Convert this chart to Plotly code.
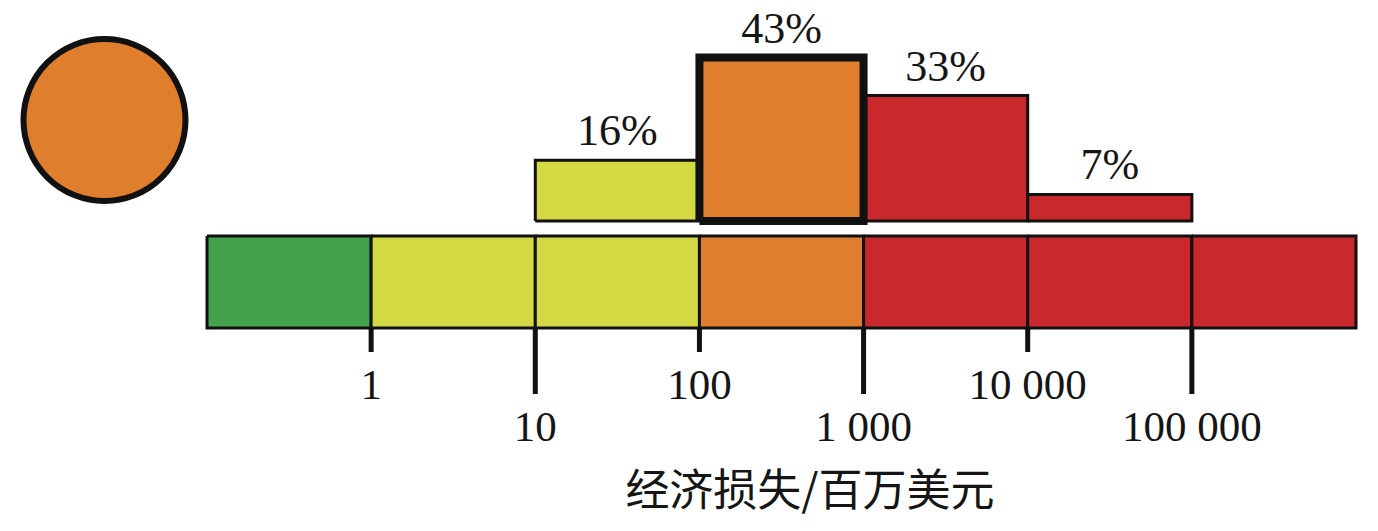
import plotly.graph_objects as go

# ---- data ----
band_edges = [0.1, 1, 10, 100, 1000, 10000, 100000, 1000000]
band_colors = ["#43a24c", "#d3d942", "#d3d942", "#df7e2c", "#c9282c", "#c9282c", "#c9282c"]

hist_lo = [10, 100, 1000, 10000]
hist_hi = [100, 1000, 10000, 100000]
hist_pct = [16, 43, 33, 7]
hist_labels = ["16%", "43%", "33%", "7%"]
hist_colors = ["#d3d942", "#df7e2c", "#c9282c", "#c9282c"]
hist_highlight = [False, True, False, False]

tick_vals = [1, 10, 100, 1000, 10000, 100000]
tick_text = ["1", "10", "100", "1 000", "10 000", "100 000"]
tick_row = [0, 1, 0, 1, 0, 1]

x_title = "经济损失/百万美元"
alert_color = "#df7e2c"

# ---- layout constants (pixels) ----
W, H = 1378, 531
PX_PER_PCT = 3.8
BASE_PX = 221
BAR_TOP, BAR_BOT = 236, 328
TICK_END = [352, 394]
LABEL_Y = [388, 430]
TEXT_COLOR = "#151515"
LINE = "#111111"
SERIF = "Liberation Serif, Times New Roman, serif"

# x axis: log, decade 0.1 at px 207, 1e6 at px 1356
px_dec = (1356 - 207) / 7.0
xr = [-1 - 207 / px_dec, 6 + (W - 1356) / px_dec]
yr1 = [-(H - BASE_PX) / PX_PER_PCT, BASE_PX / PX_PER_PCT]

fig = go.Figure()

# colour bar
for i, c in enumerate(band_colors):
    a, b = band_edges[i], band_edges[i + 1]
    fig.add_trace(go.Scatter(
        x=[a, b, b, a, a], y=[BAR_TOP, BAR_TOP, BAR_BOT, BAR_BOT, BAR_TOP],
        yaxis="y2", mode="lines", fill="toself", fillcolor=c,
        line=dict(color=LINE, width=3), hoverinfo="skip", showlegend=False))

# ticks
for v, r in zip(tick_vals, tick_row):
    fig.add_trace(go.Scatter(
        x=[v, v], y=[BAR_BOT, TICK_END[r]], yaxis="y2", mode="lines",
        line=dict(color=LINE, width=5), hoverinfo="skip", showlegend=False))

# tick labels
fig.add_trace(go.Scatter(
    x=tick_vals, y=[LABEL_Y[r] for r in tick_row], yaxis="y2", mode="text",
    text=tick_text, textposition="middle center",
    textfont=dict(family=SERIF, size=43, color=TEXT_COLOR),
    hoverinfo="skip", showlegend=False))

# histogram
for lo, hi, v, c, hl in zip(hist_lo, hist_hi, hist_pct, hist_colors, hist_highlight):
    if hl:
        continue
    fig.add_trace(go.Scatter(
        x=[lo, hi, hi, lo, lo], y=[0, 0, v, v, 0], mode="lines", fill="toself",
        fillcolor=c, line=dict(color=LINE, width=3), hoverinfo="skip", showlegend=False))
for lo, hi, v, c, hl in zip(hist_lo, hist_hi, hist_pct, hist_colors, hist_highlight):
    if not hl:
        continue
    fig.add_trace(go.Scatter(
        x=[lo, hi, hi, lo, lo], y=[0, 0, v, v, 0], mode="lines", fill="toself",
        fillcolor=c, line=dict(color=LINE, width=8), hoverinfo="skip", showlegend=False))

LABEL_GAP = 26 / PX_PER_PCT
fig.add_trace(go.Scatter(
    x=[(lo * hi) ** 0.5 for lo, hi in zip(hist_lo, hist_hi)],
    y=[v + LABEL_GAP for v in hist_pct], mode="text", text=hist_labels,
    textposition="middle center",
    textfont=dict(family=SERIF, size=44, color=TEXT_COLOR),
    hoverinfo="skip", showlegend=False))

# axis title
fig.add_trace(go.Scatter(
    x=[10 ** (xr[0] + 810 / px_dec)], y=[495], yaxis="y2", mode="text", text=[x_title],
    textposition="middle center",
    textfont=dict(family="Noto Sans CJK SC", size=44, color=TEXT_COLOR),
    hoverinfo="skip", showlegend=False))

# alert circle
cx, cy, r = 104.5, 120, 81
fig.add_shape(type="circle", xref="paper", yref="paper",
              x0=(cx - r) / W, x1=(cx + r) / W, y0=1 - (cy + r) / H, y1=1 - (cy - r) / H,
              fillcolor=alert_color, line=dict(color=LINE, width=6), layer="above")

fig.update_layout(
    width=W, height=H, margin=dict(l=0, r=0, t=0, b=0),
    paper_bgcolor="white", plot_bgcolor="white",
    xaxis=dict(type="log", range=xr, visible=False, fixedrange=True),
    yaxis=dict(range=yr1, visible=False, fixedrange=True),
    yaxis2=dict(range=[H, 0], overlaying="y", visible=False, fixedrange=True),
    showlegend=False,
)

fig.write_html("out.html", config={"displayModeBar": False},
               post_script="document.body.style.margin='0';document.body.style.padding='0';")
